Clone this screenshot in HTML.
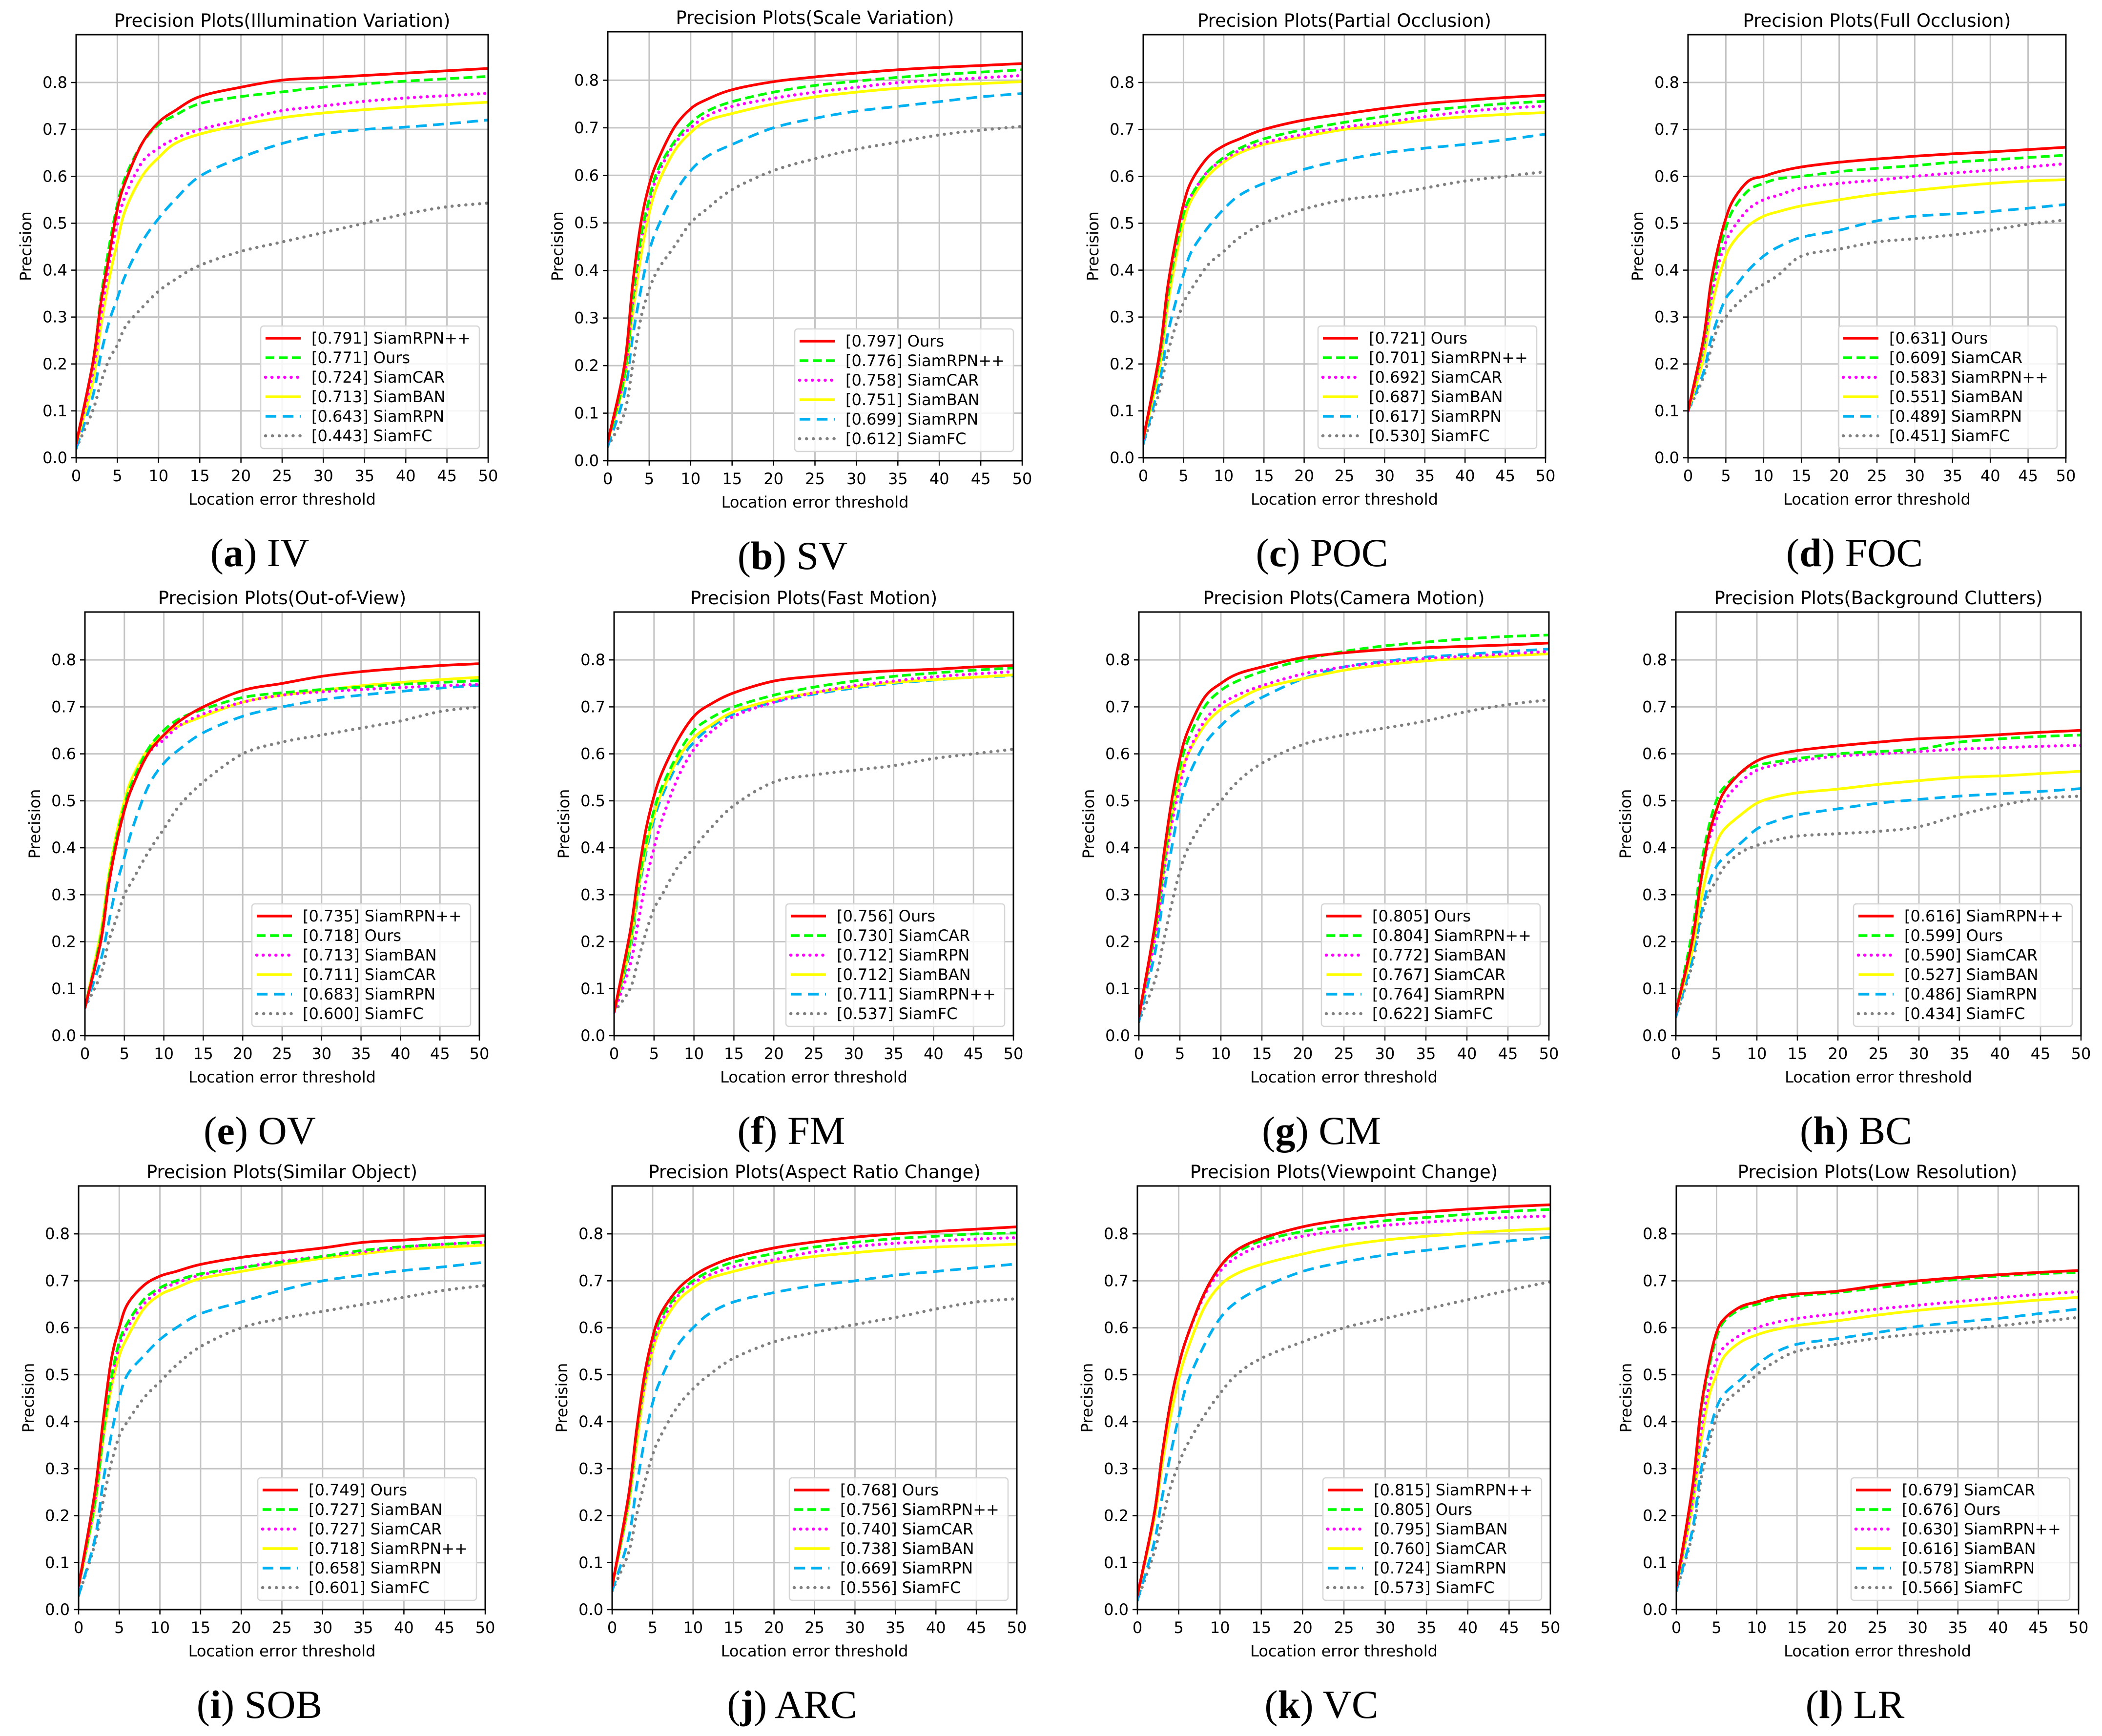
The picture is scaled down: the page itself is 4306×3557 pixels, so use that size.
<!DOCTYPE html>
<html><head><meta charset="utf-8">
<style>
html,body{margin:0;padding:0;background:#fff;}
svg{display:block;}
text{font-family:"DejaVu Sans","Liberation Sans",sans-serif;fill:#000;}
.cap{font-family:"Liberation Serif",serif;}
</style></head>
<body>
<svg id="fig" xmlns="http://www.w3.org/2000/svg" width="4306" height="3557" viewBox="0 0 4306 3557"></svg>
<script>
// shared x knots (location error threshold)
const xKnots = [0,2,3,4,5,6,8,10,12,15,20,25,30,35,40,45,50];
const xTicks = [0,5,10,15,20,25,30,35,40,45,50];
const yTicks = [0.0,0.1,0.2,0.3,0.4,0.5,0.6,0.7,0.8];

const ivLabels = ["[0.791] SiamRPN++","[0.771] Ours","[0.724] SiamCAR","[0.713] SiamBAN","[0.643] SiamRPN","[0.443] SiamFC"];
const ivValues = [
 [.03,.2,.33,.43,.53,.59,.67,.715,.74,.77,.79,.805,.81,.815,.82,.825,.83],
 [.03,.2,.34,.45,.54,.6,.67,.71,.73,.755,.77,.78,.79,.797,.803,.808,.813],
 [.03,.18,.3,.41,.5,.56,.63,.66,.68,.70,.72,.74,.75,.76,.767,.772,.777],
 [.03,.16,.28,.38,.46,.53,.6,.64,.67,.69,.71,.725,.735,.742,.748,.753,.758],
 [.02,.13,.22,.29,.34,.39,.46,.51,.55,.60,.64,.67,.69,.70,.705,.712,.72],
 [.02,.1,.16,.21,.24,.28,.32,.355,.38,.41,.44,.46,.48,.50,.52,.535,.543]];
const svLabels = ["[0.797] Ours","[0.776] SiamRPN++","[0.758] SiamCAR","[0.751] SiamBAN","[0.699] SiamRPN","[0.612] SiamFC"];
const svValues = [
 [.04,.2,.37,.5,.58,.63,.7,.74,.76,.78,.797,.807,.815,.822,.827,.831,.835],
 [.04,.18,.34,.47,.55,.61,.67,.71,.735,.755,.775,.789,.798,.806,.812,.817,.822],
 [.04,.18,.33,.46,.54,.6,.665,.70,.725,.745,.762,.775,.785,.795,.8,.805,.81],
 [.04,.17,.31,.43,.52,.58,.65,.69,.715,.73,.75,.765,.775,.783,.789,.793,.797],
 [.03,.14,.26,.36,.44,.49,.56,.61,.64,.665,.70,.72,.735,.745,.755,.765,.772],
 [.03,.1,.2,.3,.36,.4,.45,.5,.53,.57,.61,.635,.655,.67,.685,.695,.703]];
const pocLabels = ["[0.721] Ours","[0.701] SiamRPN++","[0.692] SiamCAR","[0.687] SiamBAN","[0.617] SiamRPN","[0.530] SiamFC"];
const pocValues = [
 [.04,.22,.36,.46,.54,.59,.64,.665,.68,.70,.72,.733,.745,.755,.762,.768,.773],
 [.04,.21,.34,.44,.52,.56,.61,.64,.66,.68,.70,.715,.728,.74,.748,.755,.76],
 [.04,.21,.34,.44,.52,.56,.61,.635,.655,.672,.69,.705,.715,.727,.738,.745,.75],
 [.04,.19,.32,.42,.50,.55,.6,.63,.65,.668,.685,.70,.71,.72,.727,.732,.736],
 [.03,.16,.26,.33,.39,.44,.49,.53,.56,.585,.615,.635,.65,.66,.668,.678,.69],
 [.03,.14,.22,.28,.33,.36,.41,.44,.47,.50,.53,.55,.56,.575,.59,.6,.61]];
const focLabels = ["[0.631] Ours","[0.609] SiamCAR","[0.583] SiamRPN++","[0.551] SiamBAN","[0.489] SiamRPN","[0.451] SiamFC"];
const focValues = [
 [.1,.25,.37,.45,.51,.55,.59,.60,.61,.62,.63,.637,.643,.648,.652,.657,.662],
 [.1,.24,.35,.43,.49,.53,.57,.585,.595,.60,.61,.617,.623,.63,.635,.64,.645],
 [.1,.23,.33,.41,.46,.49,.53,.55,.56,.575,.585,.592,.6,.607,.613,.62,.627],
 [.1,.21,.31,.38,.43,.46,.495,.515,.525,.537,.55,.562,.57,.578,.585,.59,.593],
 [.1,.18,.25,.3,.34,.36,.40,.43,.45,.47,.485,.505,.515,.52,.525,.532,.54],
 [.1,.17,.23,.28,.3,.32,.35,.37,.39,.43,.445,.46,.467,.475,.485,.498,.507]];
const ovLabels = ["[0.735] SiamRPN++","[0.718] Ours","[0.713] SiamBAN","[0.711] SiamCAR","[0.683] SiamRPN","[0.600] SiamFC"];
const ovValues = [
 [.06,.2,.32,.41,.48,.53,.6,.64,.67,.70,.735,.75,.765,.775,.782,.788,.792],
 [.06,.21,.33,.42,.49,.54,.61,.65,.675,.695,.72,.73,.737,.742,.748,.752,.756],
 [.06,.2,.32,.41,.48,.53,.6,.63,.66,.685,.71,.725,.732,.737,.741,.745,.748],
 [.06,.22,.34,.43,.5,.55,.61,.64,.66,.68,.71,.725,.735,.745,.752,.758,.763],
 [.06,.16,.24,.32,.38,.44,.53,.58,.61,.645,.68,.70,.715,.725,.733,.74,.746],
 [.06,.13,.2,.25,.3,.33,.39,.44,.49,.54,.6,.625,.64,.655,.67,.69,.70]];
const fmLabels = ["[0.756] Ours","[0.730] SiamCAR","[0.712] SiamRPN","[0.712] SiamBAN","[0.711] SiamRPN++","[0.537] SiamFC"];
const fmValues = [
 [.05,.22,.34,.44,.51,.56,.63,.68,.705,.73,.755,.765,.772,.777,.78,.785,.788],
 [.05,.2,.32,.41,.48,.53,.6,.65,.675,.7,.725,.742,.755,.765,.772,.778,.783],
 [.05,.15,.24,.33,.40,.46,.55,.61,.645,.68,.71,.73,.745,.755,.764,.77,.775],
 [.05,.19,.31,.4,.47,.52,.59,.635,.66,.69,.715,.73,.743,.752,.758,.763,.768],
 [.05,.18,.3,.39,.46,.51,.58,.625,.655,.685,.71,.727,.74,.75,.757,.763,.766],
 [.05,.1,.16,.22,.27,.3,.36,.4,.44,.49,.54,.555,.565,.575,.59,.6,.61]];
const cmLabels = ["[0.805] Ours","[0.804] SiamRPN++","[0.772] SiamBAN","[0.767] SiamCAR","[0.764] SiamRPN","[0.622] SiamFC"];
const cmValues = [
 [.04,.24,.38,.5,.59,.65,.72,.75,.77,.785,.805,.815,.822,.826,.829,.832,.836],
 [.04,.23,.36,.48,.57,.63,.7,.735,.755,.775,.80,.818,.83,.838,.845,.85,.853],
 [.04,.21,.34,.45,.53,.6,.67,.705,.725,.745,.77,.785,.795,.803,.808,.813,.818],
 [.04,.22,.35,.46,.55,.6,.66,.695,.715,.74,.76,.778,.79,.798,.804,.809,.813],
 [.03,.18,.3,.4,.49,.55,.62,.66,.69,.72,.76,.785,.797,.806,.812,.818,.823],
 [.03,.12,.2,.28,.35,.4,.46,.5,.54,.58,.62,.64,.655,.67,.69,.705,.715]];
const bcLabels = ["[0.616] SiamRPN++","[0.599] Ours","[0.590] SiamCAR","[0.527] SiamBAN","[0.486] SiamRPN","[0.434] SiamFC"];
const bcValues = [
 [.05,.2,.32,.42,.48,.52,.56,.585,.597,.607,.617,.625,.632,.636,.641,.646,.65],
 [.05,.22,.35,.44,.5,.53,.56,.575,.582,.59,.6,.605,.61,.625,.632,.637,.64],
 [.05,.2,.32,.41,.46,.5,.54,.565,.575,.585,.595,.6,.605,.61,.613,.616,.618],
 [.05,.18,.28,.36,.41,.44,.47,.495,.507,.517,.525,.535,.543,.55,.553,.558,.563],
 [.04,.16,.25,.32,.36,.38,.41,.44,.455,.47,.483,.495,.503,.51,.515,.52,.526],
 [.04,.15,.24,.3,.33,.36,.39,.405,.415,.425,.43,.435,.445,.47,.49,.505,.51]];
const sobLabels = ["[0.749] Ours","[0.727] SiamBAN","[0.727] SiamCAR","[0.718] SiamRPN++","[0.658] SiamRPN","[0.601] SiamFC"];
const sobValues = [
 [.05,.25,.4,.53,.6,.65,.69,.71,.72,.735,.75,.76,.77,.782,.787,.792,.796],
 [.05,.23,.37,.49,.57,.61,.66,.685,.7,.715,.728,.74,.752,.765,.773,.778,.783],
 [.05,.23,.37,.48,.56,.6,.65,.68,.695,.712,.728,.742,.752,.762,.772,.778,.782],
 [.05,.22,.36,.47,.54,.58,.64,.67,.685,.705,.72,.735,.748,.758,.767,.772,.776],
 [.03,.15,.27,.37,.45,.5,.54,.575,.6,.63,.655,.68,.70,.712,.722,.73,.74],
 [.03,.14,.23,.31,.37,.4,.45,.485,.52,.56,.6,.62,.635,.65,.665,.68,.69]];
const arcLabels = ["[0.768] Ours","[0.756] SiamRPN++","[0.740] SiamCAR","[0.738] SiamBAN","[0.669] SiamRPN","[0.556] SiamFC"];
const arcValues = [
 [.05,.24,.38,.5,.58,.63,.68,.71,.73,.75,.77,.783,.793,.80,.805,.81,.815],
 [.05,.23,.37,.49,.57,.62,.67,.70,.72,.74,.758,.772,.782,.79,.795,.8,.802],
 [.05,.23,.37,.48,.56,.61,.665,.695,.712,.73,.745,.762,.773,.78,.785,.789,.792],
 [.05,.22,.35,.47,.55,.6,.655,.685,.705,.72,.74,.752,.76,.767,.772,.775,.778],
 [.04,.15,.26,.36,.44,.49,.56,.6,.63,.655,.675,.69,.70,.712,.72,.728,.736],
 [.04,.12,.2,.27,.33,.37,.43,.47,.5,.535,.57,.59,.607,.622,.64,.655,.662]];
const vcLabels = ["[0.815] SiamRPN++","[0.805] Ours","[0.795] SiamBAN","[0.760] SiamCAR","[0.724] SiamRPN","[0.573] SiamFC"];
const vcValues = [
 [.03,.2,.33,.44,.52,.58,.67,.73,.765,.79,.815,.83,.84,.847,.853,.858,.862],
 [.03,.2,.33,.44,.52,.58,.67,.73,.76,.785,.805,.818,.828,.835,.842,.848,.852],
 [.03,.2,.33,.44,.52,.58,.665,.72,.75,.775,.795,.808,.818,.825,.83,.835,.838],
 [.03,.19,.31,.41,.49,.55,.64,.69,.715,.735,.757,.775,.787,.795,.802,.807,.811],
 [.02,.14,.24,.33,.41,.48,.56,.62,.655,.685,.72,.74,.755,.765,.775,.785,.793],
 [.02,.12,.19,.26,.31,.35,.41,.46,.5,.535,.57,.6,.62,.64,.66,.68,.698]];
const lrLabels = ["[0.679] SiamCAR","[0.676] Ours","[0.630] SiamRPN++","[0.616] SiamBAN","[0.578] SiamRPN","[0.566] SiamFC"];
const lrValues = [
 [.05,.26,.42,.52,.59,.62,.645,.655,.665,.672,.678,.69,.70,.707,.713,.718,.722],
 [.05,.25,.41,.51,.58,.615,.64,.65,.66,.668,.675,.685,.695,.703,.71,.715,.718],
 [.05,.23,.37,.47,.53,.56,.585,.6,.61,.62,.63,.64,.648,.656,.664,.671,.677],
 [.05,.22,.35,.45,.5,.54,.57,.585,.595,.605,.615,.627,.637,.645,.652,.659,.665],
 [.04,.17,.29,.37,.43,.46,.49,.52,.545,.565,.577,.59,.603,.612,.62,.63,.64],
 [.04,.16,.27,.35,.41,.44,.47,.5,.525,.55,.565,.578,.587,.595,.604,.613,.622]];

const NS = "http://www.w3.org/2000/svg";
const svg = document.getElementById('fig');
const styles = [
 {c:"#ff0000", d:null, cap:"butt", w:5.5},
 {c:"#00ff00", d:"18 9", cap:"butt", w:5.5},
 {c:"#ff00ff", d:"0.1 13", cap:"round", w:6.5},
 {c:"#ffff00", d:null, cap:"butt", w:5.5},
 {c:"#00b0f0", d:"22 13", cap:"butt", w:5.5},
 {c:"#808080", d:"0.1 14", cap:"round", w:6.5}];

function el(tag, attrs, parent, txt){
  const e = document.createElementNS(NS, tag);
  for (const k in attrs) e.setAttribute(k, attrs[k]);
  if (txt !== undefined) e.textContent = txt;
  parent.appendChild(e);
  return e;
}

const panels = [
 {key:"iv", title:"Precision Plots(Illumination Variation)", L:156, R:1000, T:71, B:938, cl:"a", cn:"IV", labels:ivLabels, vals:ivValues},
 {key:"sv", title:"Precision Plots(Scale Variation)", L:1245, R:2094, T:65, B:944, cl:"b", cn:"SV", labels:svLabels, vals:svValues},
 {key:"poc", title:"Precision Plots(Partial Occlusion)", L:2342, R:3166, T:71, B:938, cl:"c", cn:"POC", labels:pocLabels, vals:pocValues},
 {key:"foc", title:"Precision Plots(Full Occlusion)", L:3458, R:4232, T:71, B:938, cl:"d", cn:"FOC", labels:focLabels, vals:focValues},
 {key:"ov", title:"Precision Plots(Out-of-View)", L:174, R:982, T:1254, B:2122, cl:"e", cn:"OV", labels:ovLabels, vals:ovValues},
 {key:"fm", title:"Precision Plots(Fast Motion)", L:1258, R:2076, T:1254, B:2122, cl:"f", cn:"FM", labels:fmLabels, vals:fmValues},
 {key:"cm", title:"Precision Plots(Camera Motion)", L:2333, R:3173, T:1254, B:2122, cl:"g", cn:"CM", labels:cmLabels, vals:cmValues},
 {key:"bc", title:"Precision Plots(Background Clutters)", L:3433, R:4263, T:1254, B:2122, cl:"h", cn:"BC", labels:bcLabels, vals:bcValues},
 {key:"sob", title:"Precision Plots(Similar Object)", L:161, R:994, T:2430, B:3298, cl:"i", cn:"SOB", labels:sobLabels, vals:sobValues},
 {key:"arc", title:"Precision Plots(Aspect Ratio Change)", L:1254, R:2083, T:2430, B:3298, cl:"j", cn:"ARC", labels:arcLabels, vals:arcValues},
 {key:"vc", title:"Precision Plots(Viewpoint Change)", L:2330, R:3176, T:2430, B:3298, cl:"k", cn:"VC", labels:vcLabels, vals:vcValues},
 {key:"lr", title:"Precision Plots(Low Resolution)", L:3434, R:4258, T:2430, B:3298, cl:"l", cn:"LR", labels:lrLabels, vals:lrValues}];

const YMAX = 0.902;

function smoothPath(pts){
  let d = "M" + pts[0][0].toFixed(1) + "," + pts[0][1].toFixed(1);
  for (let i=0;i<pts.length-1;i++){
    const p0 = pts[Math.max(0,i-1)], p1 = pts[i], p2 = pts[i+1], p3 = pts[Math.min(pts.length-1,i+2)];
    const c1x = p1[0] + (p2[0]-p0[0])/6, c1y = p1[1] + (p2[1]-p0[1])/6;
    const c2x = p2[0] - (p3[0]-p1[0])/6, c2y = p2[1] - (p3[1]-p1[1])/6;
    d += " C" + c1x.toFixed(1)+","+c1y.toFixed(1)+" "+c2x.toFixed(1)+","+c2y.toFixed(1)+" "+p2[0].toFixed(1)+","+p2[1].toFixed(1);
  }
  return d;
}

panels.forEach(p => {
  const g = el('g', {}, svg);
  
  
  const xs = v => p.L + (v/50)*(p.R-p.L);
  const ys = v => p.B - (v/YMAX)*(p.B-p.T);

  xTicks.forEach(t => {
    const l = el('line', {x1:xs(t), x2:xs(t), y1:p.T, y2:p.B, stroke:"#c4c4c4", "stroke-width":3}, g);
    
    
  });
  yTicks.forEach(t => {
    const l = el('line', {x1:p.L, x2:p.R, y1:ys(t), y2:ys(t), stroke:"#c4c4c4", "stroke-width":3}, g);
    
    
  });

  const cp = el('clipPath', {id:"clip-"+p.key}, g);
  el('rect', {x:p.L, y:p.T, width:p.R-p.L, height:p.B-p.T}, cp);
  const lines = el('g', {"clip-path":"url(#clip-"+p.key+")"}, g);

  for (let s = p.vals.length-1; s >= 0; s--){
    const pts = xKnots.map((x,i) => [xs(x), ys(p.vals[s][i])]);
    const st = styles[s];
    const a = {d:smoothPath(pts), fill:"none", stroke:st.c, "stroke-width":st.w, "stroke-linecap":st.cap, "stroke-linejoin":"round"};
    if (st.d) a["stroke-dasharray"] = st.d;
    const path = el('path', a, lines);
    
    
  }

  const fr = el('rect', {x:p.L, y:p.T, width:p.R-p.L, height:p.B-p.T, fill:"none", stroke:"#000", "stroke-width":3}, g);
  
  

  xTicks.forEach(t => {
    el('line', {x1:xs(t), x2:xs(t), y1:p.B, y2:p.B+10, stroke:"#000", "stroke-width":2.5}, g);
    const tx = el('text', {x:xs(t), y:p.B+48, "text-anchor":"middle", "font-size":32}, g, String(t));
    
    
  });
  yTicks.forEach(t => {
    el('line', {x1:p.L-10, x2:p.L, y1:ys(t), y2:ys(t), stroke:"#000", "stroke-width":2.5}, g);
    const tx = el('text', {x:p.L-18, y:ys(t)+11, "text-anchor":"end", "font-size":32}, g, t.toFixed(1));
    
    
  });

  const ttl = el('text', {x:(p.L+p.R)/2, y:p.T-16, "text-anchor":"middle", "font-size":37}, g, p.title);
  
  
  const xl = el('text', {x:(p.L+p.R)/2, y:p.B+96, "text-anchor":"middle", "font-size":32}, g, "Location error threshold");
  
  
  const cy = (p.T+p.B)/2;
  const yl = el('text', {x:p.L-92, y:cy, "text-anchor":"middle", "font-size":32, transform:"rotate(-90 "+(p.L-92)+" "+cy+")"}, g, "Precision");
  
  

  const lw = 448, lh = 251;
  const lx = p.R - 18 - lw, ly = p.B - 19 - lh;
  const lg = el('g', {}, g);
  
  
  el('rect', {x:lx, y:ly, width:lw, height:lh, rx:6, fill:"#fff", "fill-opacity":0.85, stroke:"#d6d6d6", "stroke-width":2.5}, lg);
  p.labels.forEach((lab, i) => {
    const st = styles[i];
    const yy = ly + 25 + 40*i;
    const entry = el('g', {}, lg);
    
    
    const a = {x1:lx+10, x2:lx+82, y1:yy, y2:yy, stroke:st.c, "stroke-width":st.w, "stroke-linecap":st.cap};
    if (st.d) a["stroke-dasharray"] = st.d;
    el('line', a, entry);
    el('text', {x:lx+104, y:yy+11, "font-size":32}, entry, lab);
  });

  const capx = (p.L+p.R)/2 - 46;
  const cap = el('text', {x:capx, y:p.B+222, "text-anchor":"middle", "font-size":82, "class":"cap"}, g);
  
  
  el('tspan', {}, cap, "(");
  el('tspan', {"font-weight":"bold"}, cap, p.cl);
  el('tspan', {}, cap, ") " + p.cn);
});
</script>
</body></html>
